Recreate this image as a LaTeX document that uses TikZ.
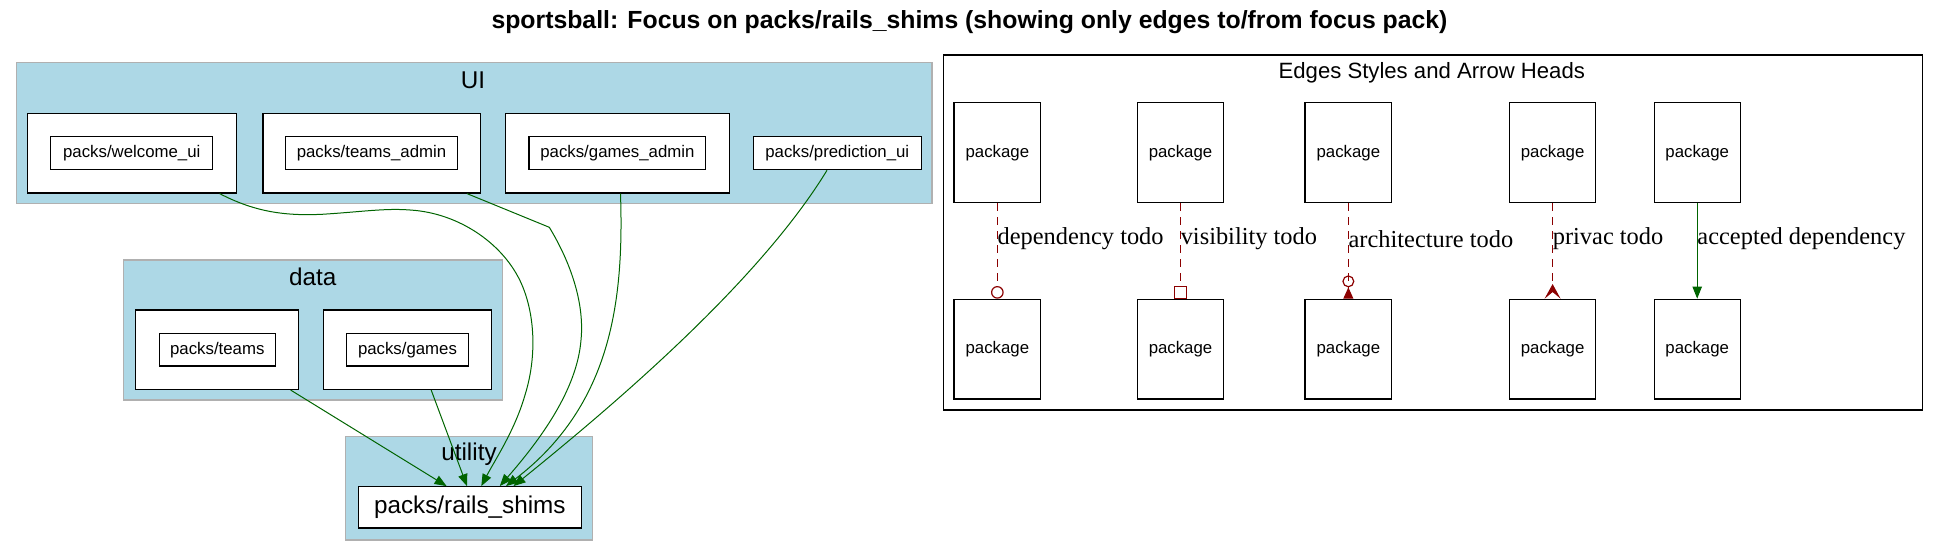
\documentclass[tikz,border=0pt]{standalone}
\usepackage{fontspec}
\setmainfont{Liberation Serif}
\newfontfamily\sansf{Liberation Sans}
\usetikzlibrary{fit,arrows.meta,calc}
\definecolor{lblue}{HTML}{ADD8E6}
\definecolor{cgray}{HTML}{B0B0B0}
\definecolor{dgreen}{HTML}{006400}
\definecolor{dred}{HTML}{8B0000}
\begin{document}
\begin{tikzpicture}[x=0.75pt,y=-0.75pt,
  cluster/.style={fill=lblue, draw=cgray, line width=0.8pt, inner sep=0pt},
  outerbox/.style={fill=white, draw=black, line width=0.9pt, inner sep=0pt},
  smallfont/.style={font=\sansf\fontsize{12.6}{14}\selectfont},
  pkg/.style={fill=white, draw=black, line width=0.9pt, inner sep=0pt, label={[smallfont, inner sep=0pt]center:#1}},
  bigpkg/.style={fill=white, draw=black, line width=0.9pt, inner sep=0pt, label={[font=\sansf\fontsize{18.2}{20}\selectfont, inner sep=0pt]center:#1}},
  cllabel/.style={font=\sansf\fontsize{18.2}{20}\selectfont, inner sep=0pt},
  dep/.style={draw=dgreen, line width=0.75pt, -{Triangle[length=9pt,width=7pt]}, fill=none},
  todo/.style={draw=dred, line width=0.75pt, dash pattern=on 5.5pt off 5pt},
  elabel/.style={font=\fontsize{18.3}{20}\selectfont, anchor=west, inner sep=0pt}
]
\useasboundingbox (0,0) rectangle (1939,556);

% title
\node[font=\sansf\bfseries\fontsize{18.6}{20}\selectfont, inner sep=0pt] (title) at (969.5,22.5)
  {sportsball: Focus on packs/rails\_shims (showing only edges to/from focus pack)};

% clusters
\node[cluster, fit={(16.7,62.7)(932,203.3)}] (ui) {};
\node[cllabel] (uilab) at (473,80.7) {UI};
\node[cluster, fit={(123.5,260)(502.5,400)}] (data) {};
\node[cllabel] (datalab) at (312.7,276.7) {data};
\node[cluster, fit={(345.8,436.7)(592.6,540)}] (util) {};
\node[cllabel] (utillab) at (469,454) {utility};

% UI packs
\node[outerbox, fit={(27.8,113.7)(236.3,193)}] (wo) {};
\node[pkg={packs/welcome\_ui}, fit={(50.7,136.7)(212.8,169.7)}] (wi) {};
\node[outerbox, fit={(263,113.7)(480.7,193)}] (tao) {};
\node[pkg={packs/teams\_admin}, fit={(285.8,136.7)(457.2,169.7)}] (tai) {};
\node[outerbox, fit={(505.4,113.7)(729.4,193)}] (gao) {};
\node[pkg={packs/games\_admin}, fit={(529,136.7)(705.8,169.7)}] (gai) {};
\node[pkg={packs/prediction\_ui}, fit={(753.5,136.7)(921.1,169.7)}] (pui) {};

% data packs
\node[outerbox, fit={(135.6,310)(298.8,389.5)}] (to) {};
\node[pkg={packs/teams}, fit={(159.3,333.7)(275.3,366)}] (ti) {};
\node[outerbox, fit={(323.3,310)(491.7,389.5)}] (go) {};
\node[pkg={packs/games}, fit={(346.7,333.7)(468.3,366)}] (gi) {};

% utility
\node[bigpkg={packs/rails\_shims}, fit={(358.2,486.7)(581.5,528)}] (rs) {};

% edges to rails_shims
\draw[dep] ($(wo.south)+(87.55,0)$) .. controls (255,212) and (285,216) .. (322,214.3)
  .. controls (360,212) and (385,208) .. (410,210)
  .. controls (460,213) and (505,245) .. (522,285)
  .. controls (536,318) and (536,360) .. (525,395)
  .. controls (515,430) and (495,460) .. ($(rs.north)+(11.45,0)$);
\draw[dep] ($(tao.south)+(95.15,0)$) -- (549.3,227.3)
  .. controls (568,258) and (585,300) .. (581,340)
  .. controls (577,390) and (540,440) .. ($(rs.north)+(29.95,0)$);
\draw[dep] ($(gao.south)+(3.1,0)$) .. controls (624,300) and (612,405) .. ($(rs.north)+(36.15,0)$);
\draw[dep] ($(pui.south)+(-10.3,0)$) .. controls (760,280) and (620,400) .. ($(rs.north)+(43.65,0)$);
\draw[dep] ($(to.south)+(73.5,0)$) -- ($(rs.north)+(-23.25,0)$);
\draw[dep] ($(go.south)+(23.7,0)$) -- ($(rs.north)+(-2.85,0)$);

% legend
\node[draw=black, line width=0.9pt, fit={(943.2,55)(1922.4,410)}, inner sep=0pt] (legend) {};
\node[font=\sansf\fontsize{16.6}{18}\selectfont, inner sep=0pt] (legtitle) at (1431.8,72.3) {Edges Styles and Arrow Heads};

\node[pkg=package, fit={(954,102.7)(1040.7,202.7)}] (a1) {};
\node[pkg=package, fit={(954,299.3)(1040.7,399)}] (b1) {};
\node[pkg=package, fit={(1137.5,102.7)(1223.5,202.7)}] (a2) {};
\node[pkg=package, fit={(1137.5,299.3)(1223.5,399)}] (b2) {};
\node[pkg=package, fit={(1305,102.7)(1391.7,202.7)}] (a3) {};
\node[pkg=package, fit={(1305,299.3)(1391.7,399)}] (b3) {};
\node[pkg=package, fit={(1509.6,102.7)(1595.6,202.7)}] (a4) {};
\node[pkg=package, fit={(1509.6,299.3)(1595.6,399)}] (b4) {};
\node[pkg=package, fit={(1654.2,102.7)(1740.2,202.7)}] (a5) {};
\node[pkg=package, fit={(1654.2,299.3)(1740.2,399)}] (b5) {};

\draw[todo, -{Circle[open,length=9.5pt,width=9.5pt,line width=0.9pt]}] (a1.south) -- (b1.north);
\draw[todo, -{Square[open,length=9.5pt,width=9.5pt,line width=0.9pt]}] (a2.south) -- (b2.north);
\draw[todo, -{Circle[open,length=9pt,width=9pt,line width=0.9pt] Triangle[reversed,length=8.5pt,width=7.5pt]}] (a3.south) -- (b3.north);
\draw[todo, -{Stealth[reversed,length=11pt,width=12pt,inset=5pt]}] (a4.south) -- (b4.north);
\draw[dep] (a5.south) -- (b5.north);

\node[elabel] (l1) at ($(a1.south)+(0,35.5)$) {dependency todo};
\node[elabel] (l2) at ($(a2.south)+(0,35.5)$) {visibility todo};
\node[elabel] (l3) at ($(a3.south)+(0,35.5)$) {architecture todo};
\node[elabel] (l4) at ($(a4.south)+(0,35.5)$) {privac todo};
\node[elabel] (l5) at ($(a5.south)+(0,35.5)$) {accepted dependency};
\end{tikzpicture}
\end{document}
